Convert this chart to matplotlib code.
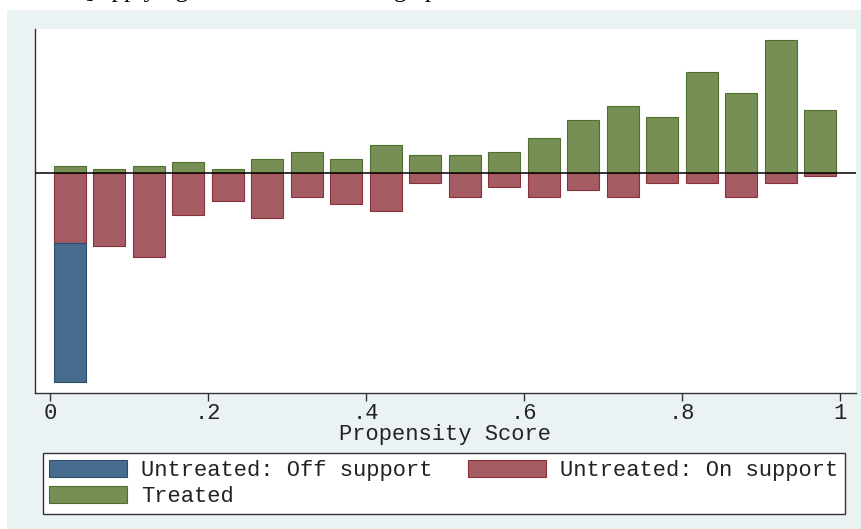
import matplotlib
matplotlib.use("Agg")
import matplotlib.pyplot as plt
from matplotlib.patches import Patch, Rectangle

# Propensity-score bins (bin centres) and counts per group
bin_centers = [0.025, 0.075, 0.125, 0.175, 0.225, 0.275, 0.325, 0.375, 0.425, 0.475,
               0.525, 0.575, 0.625, 0.675, 0.725, 0.775, 0.825, 0.875, 0.925, 0.975]
treated = [2, 1, 2, 3, 1, 4, 6, 4, 8, 5, 5, 6, 10, 15, 19, 16, 29, 23, 38, 18]
untreated_on = [20, 21, 24, 12, 8, 13, 7, 9, 11, 3, 7, 4, 7, 5, 7, 3, 3, 7, 3, 1]
untreated_off = [40, 0, 0, 0, 0, 0, 0, 0, 0, 0, 0, 0, 0, 0, 0, 0, 0, 0, 0, 0]

tick_values = [0, 0.2, 0.4, 0.6, 0.8, 1]
tick_labels = ["0", ".2", ".4", ".6", ".8", "1"]

BAR_W = 0.04
C_OFF, E_OFF = "#486c8d", "#2b4d6e"
C_ON, E_ON = "#a45c62", "#8c2f39"
C_TR, E_TR = "#778f55", "#4f6f2f"
BG = "#eaf2f3"
MONO = "Liberation Mono"
FS = 15.9

W, H = 862, 529
fig = plt.figure(figsize=(W / 100, H / 100), dpi=100, facecolor="white")

# outer graph region
fig.patches.append(Rectangle((7 / W, 0), 1 - 7 / W, (H - 10) / H,
                             transform=fig.transFigure, facecolor=BG,
                             edgecolor="none", zorder=-5))

# running text of the surrounding page, cut at the top edge
fig.text(86 / W, (H + 2.5) / H, "] applying", family="Liberation Serif",
         fontsize=18, va="baseline", ha="left")
fig.text(394 / W, (H + 2.5) / H, "graph", family="Liberation Serif",
         fontsize=18, va="baseline", ha="left")

ax = fig.add_axes([35 / W, (H - 393) / H, (856 - 35) / W, (393 - 29) / H])
ax.set_facecolor("white")

neg_on = [-v for v in untreated_on]
neg_off = [-v for v in untreated_off]

ax.bar(bin_centers, treated, width=BAR_W, color=C_TR, edgecolor=E_TR,
       linewidth=0.8, zorder=2)
ax.bar(bin_centers, neg_on, width=BAR_W, color=C_ON, edgecolor=E_ON,
       linewidth=0.8, zorder=2)
off_idx = [i for i, v in enumerate(untreated_off) if v > 0]
ax.bar([bin_centers[i] for i in off_idx], [neg_off[i] for i in off_idx],
       bottom=[neg_on[i] for i in off_idx], width=BAR_W, color=C_OFF,
       edgecolor=E_OFF, linewidth=0.8, zorder=2)

ax.axhline(0, color="black", linewidth=1.1, zorder=3)

ax.set_xlim(-15 / 790, 806 / 790)
ax.set_ylim(-63.1, 41.2)

for s in ("top", "right"):
    ax.spines[s].set_visible(False)
for s in ("left", "bottom"):
    ax.spines[s].set_color("#333333")
    ax.spines[s].set_linewidth(1.0)

ax.set_yticks([])
ax.set_xticks(tick_values)
ax.set_xticklabels(tick_labels, family=MONO, fontsize=FS, color="#222222")
ax.tick_params(axis="x", length=5.5, width=1.0, color="#333333", pad=1.5)
ax.set_xlabel("Propensity Score", family=MONO, fontsize=FS, color="#222222",
              labelpad=0)

handles = [
    Patch(facecolor=C_OFF, edgecolor=E_OFF, linewidth=0.8, label="Untreated: Off support"),
    Patch(facecolor=C_TR, edgecolor=E_TR, linewidth=0.8, label="Treated"),
    Patch(facecolor=C_ON, edgecolor=E_ON, linewidth=0.8, label="Untreated: On support"),
]
leg = fig.legend(handles=handles, loc="upper left", ncol=2,
                 bbox_to_anchor=(42.7 / W, (H - 453) / H),
                 bbox_transform=fig.transFigure, borderaxespad=0,
                 prop={"family": MONO, "size": FS},
                 handlelength=3.53, handleheight=0.86, handletextpad=0.63,
                 columnspacing=1.59, labelspacing=0.2, borderpad=0.3,
                 fancybox=False, framealpha=1, facecolor="white",
                 edgecolor="#333333")
leg.get_frame().set_linewidth(1.0)
for t in leg.get_texts():
    t.set_color("#222222")

fig.savefig("out.png", dpi=100, facecolor="white")
